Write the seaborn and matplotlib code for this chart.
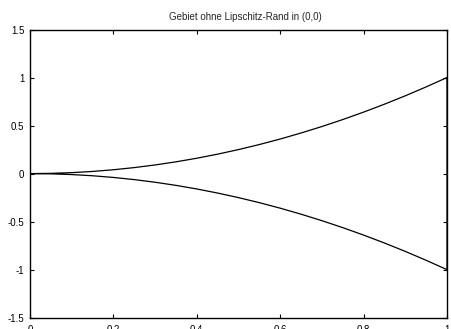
import matplotlib
matplotlib.use("Agg")
import matplotlib.pyplot as plt
import pandas as pd
import seaborn as sns

# Boundary of the domain
x_upper = [0.0, 0.05, 0.1, 0.15, 0.2, 0.25, 0.3, 0.35, 0.4, 0.45, 0.5,
           0.55, 0.6, 0.65, 0.7, 0.75, 0.8, 0.85, 0.9, 0.95, 1.0]
y_upper = [0.0, 0.0025, 0.01, 0.0225, 0.04, 0.0625, 0.09, 0.1225, 0.16, 0.2025, 0.25,
           0.3025, 0.36, 0.4225, 0.49, 0.5625, 0.64, 0.7225, 0.81, 0.9025, 1.0]
y_lower = [-v for v in y_upper]

x_ticks = [0, 0.2, 0.4, 0.6, 0.8, 1]
x_labels = ["0", "0.2", "0.4", "0.6", "0.8", "1"]
y_ticks = [-1.5, -1, -0.5, 0, 0.5, 1, 1.5]
y_labels = ["-1.5", "-1", "-0.5", "0", "0.5", "1", "1.5"]

title = "Gebiet ohne Lipschitz-Rand in (0,0)"

# closed outline: upper curve out, vertical edge at x=1, lower curve back
outline = pd.DataFrame({
    "x": x_upper + x_upper[::-1],
    "y": y_upper + y_lower[::-1],
})

sns.set_style("ticks")
plt.rcParams["font.family"] = ["Liberation Sans", "DejaVu Sans"]

fig = plt.figure(figsize=(4.52, 3.29), dpi=100)
ax = fig.add_axes([30 / 452, 1 - 317.7 / 329, 417 / 452, 288.2 / 329])

sns.lineplot(data=outline, x="x", y="y", sort=False, estimator=None,
             color="black", linewidth=0.9, ax=ax)

ax.set_xlim(0, 1)
ax.set_ylim(-1.5, 1.5)
ax.set_xticks(x_ticks)
ax.set_xticklabels(x_labels)
ax.set_yticks(y_ticks)
ax.set_yticklabels(y_labels)
ax.set_xlabel("")
ax.set_ylabel("")
ax.tick_params(direction="in", length=3, width=0.8, labelsize=7, pad=4,
               colors="black", top=True, right=True)
ax.tick_params(axis="x", pad=5.5)
for side in ax.spines.values():
    side.set_visible(True)
    side.set_linewidth(1.0)
    side.set_color("black")

ax.set_title(title, fontsize=7, pad=7, x=0.517)

fig.savefig("out.png", dpi=100)
